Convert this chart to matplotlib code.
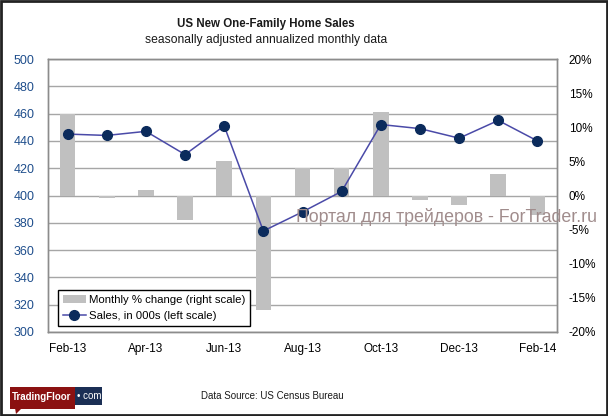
import matplotlib
matplotlib.use("Agg")
import matplotlib.pyplot as plt
from matplotlib.patches import Rectangle, Polygon
import numpy as np

plt.rcParams['font.family'] = ['Liberation Sans', 'DejaVu Sans']

months = ["Feb-13", "Mar-13", "Apr-13", "May-13", "Jun-13", "Jul-13", "Aug-13",
          "Sep-13", "Oct-13", "Nov-13", "Dec-13", "Jan-14", "Feb-14"]
# sales, thousands (left scale)
sales = [445, 444, 447, 430, 451, 374, 388, 403, 452, 449, 442, 455, 440]
# monthly % change (right scale)
pct_change = [11.9, -0.4, 0.8, -3.6, 5.0, -16.8, 4.1, 4.1, 12.3, -0.7, -1.4, 3.2, -2.8]

left_ticks = list(range(300, 501, 20))
right_ticks = list(range(-20, 21, 5))

fig = plt.figure(figsize=(6.08, 4.16), dpi=100)
ax2 = fig.add_axes([48 / 608, 1 - 332 / 416, 509 / 608, 273 / 416])
ax = ax2.twinx()

x = np.arange(len(months))

# bars on the right scale, gridlines behind them
for v in left_ticks:
    ax2.axhline((v - 400) / 5, color="#a6a6a6", lw=1, zorder=0)
bars = ax2.bar(x, pct_change, width=0.4, color="#c0c0c0", zorder=2)
ax2.set_ylim(-20, 20)
ax2.set_xlim(-0.5, len(months) - 0.5)

# line on the left scale, drawn on top
ax.set_zorder(ax2.get_zorder() + 1)
ax.patch.set_visible(False)
line, = ax.plot(x, sales, color="#4a4aa8", lw=1.1, marker="o", markersize=7,
                markerfacecolor="#0b2b5c", markeredgecolor="#0b2b5c")
ax.set_ylim(300, 500)

ax.set_yticks(left_ticks)
ax.tick_params(axis="y", left=False, right=False, labelleft=True, labelright=False,
               pad=6, labelsize=9, labelcolor="#1f4e8c")
ax2.set_yticks(right_ticks)
ax2.set_yticklabels([f"{t}%" for t in right_ticks])
ax2.tick_params(axis="y", left=False, right=False, labelleft=False, labelright=True,
                pad=5, labelsize=8.5)
ax2.set_xticks(x[::2])
ax2.set_xticklabels(months[::2])
ax2.tick_params(axis="x", length=0, pad=8, labelsize=8.5)

for a in (ax, ax2):
    for s in a.spines.values():
        s.set_color("#8c8c8c")
        s.set_linewidth(1)

leg = ax.legend([bars, line], ["Monthly % change (right scale)", "Sales, in 000s (left scale)"],
                loc="lower left", bbox_to_anchor=(0.02, 0.022), borderaxespad=0,
                fontsize=8.2, fancybox=False, framealpha=1, edgecolor="black",
                handlelength=2.0, borderpad=0.4, labelspacing=0.6, handletextpad=0.3)
leg.get_frame().set_linewidth(1)

fig.text(266 / 608, 1 - 24 / 416, "US New One-Family Home Sales", ha="center", va="center",
         fontsize=8.3, fontweight="bold", color="#1a1a1a")
fig.text(266 / 608, 1 - 40 / 416, "seasonally adjusted annualized monthly data", ha="center",
         va="center", fontsize=8.7, color="#1a1a1a")

# watermark
fig.text(447 / 608, 1 - 217 / 416, "Портал для трейдеров - ForTrader.ru", ha="center",
         va="center", fontsize=12.8, color="#a08c8c", zorder=10)

fig.text(272 / 608, 1 - 396 / 416, "Data Source: US Census Bureau", ha="center", va="center",
         fontsize=7, color="#1a1a1a")

# TradingFloor logo
W, H = 608, 416
fig.patches.append(Polygon([(15 / W, 1 - 408 / H), (16 / W, 1 - 414 / H), (22 / W, 1 - 408 / H)],
                           closed=True, transform=fig.transFigure, facecolor="#8b1111",
                           edgecolor="none"))
fig.patches.append(Rectangle((10 / W, 1 - 409 / H), 65 / W, 22 / H, transform=fig.transFigure,
                             facecolor="#8b1111", edgecolor="none"))
fig.patches.append(Rectangle((75 / W, 1 - 405 / H), 27 / W, 18 / H, transform=fig.transFigure,
                             facecolor="#1b2f55", edgecolor="none"))
fig.text(42 / W, 1 - 397 / H, "TradingFloor", ha="center", va="center", fontsize=7,
         fontweight="bold", color="white")
fig.text(89 / W, 1 - 396 / H, "• com", ha="center", va="center", fontsize=7, color="white")

# outer frame
fig.patches.append(Rectangle((0.001, 0.002), 0.997, 0.996, transform=fig.transFigure,
                             facecolor="none", edgecolor="#222222", lw=2))

fig.savefig("out.png", dpi=100)
